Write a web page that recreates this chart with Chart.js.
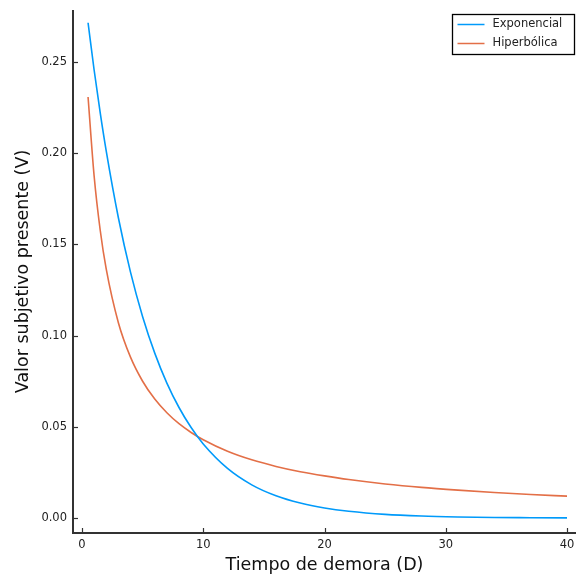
<!DOCTYPE html>
<html><head><meta charset="utf-8">
<script src="https://cdn.jsdelivr.net/npm/chart.js@4/dist/chart.umd.min.js"></script>
<style>html,body{margin:0;padding:0;background:#fff;}#wrap{width:576px;height:577px;position:relative;}</style>
</head><body><div id="wrap"><canvas id="c" width="576" height="577"></canvas></div>
<script>
const delays = [0.5,1,1.5,2,3,4,5,6,7,8,9,10,12,14,16,18,20,22,25,28,31,34,37,40];
const exponencial = [0.2715,0.2456,0.2222,0.2011,0.1646,0.1348,0.1104,0.0904,0.0740,0.0606,0.0496,0.0406,0.0272,0.0182,0.0122,0.0082,0.0055,0.0037,0.0020,0.0011,0.0006,0.0003,0.0002,0.0001];
const hiperbolica = [0.2308,0.1875,0.1579,0.1364,0.1071,0.0882,0.0750,0.0652,0.0577,0.0517,0.0469,0.0429,0.0366,0.0319,0.0283,0.0254,0.0231,0.0211,0.0187,0.0168,0.0153,0.0140,0.0129,0.0120];
const seriesNames = ["Exponencial","Hiperbólica"];
const xTicks = [0,10,20,30,40];
const yTicks = [0,0.05,0.10,0.15,0.20,0.25];
const FONT = "'DejaVu Sans', sans-serif";

const pts = v => delays.map((d,i)=>({x:d,y:v[i]}));

const axisPlugin = {
  id:'axes',
  afterDraw(chart){
    const ctx=chart.ctx, a=chart.chartArea, xs=chart.scales.x, ys=chart.scales.y;
    ctx.save();
    ctx.strokeStyle='#333'; ctx.lineWidth=1.2;
    xTicks.forEach(t=>{const px=Math.round(xs.getPixelForValue(t))+0.5;ctx.beginPath();ctx.moveTo(px,a.bottom);ctx.lineTo(px,a.bottom-5);ctx.stroke();});
    yTicks.forEach(t=>{const py=Math.round(ys.getPixelForValue(t))+0.5;ctx.beginPath();ctx.moveTo(a.left,py);ctx.lineTo(a.left+5,py);ctx.stroke();});
    ctx.lineWidth=2;
    ctx.beginPath();ctx.moveTo(a.left,a.top);ctx.lineTo(a.left,a.bottom);ctx.lineTo(a.right,a.bottom);ctx.stroke();
    // legend
    const bx=452.5, by=14.5, bw=122, bh=40;
    ctx.fillStyle='#fff'; ctx.fillRect(bx,by,bw,bh);
    ctx.strokeStyle='#000'; ctx.lineWidth=1.3; ctx.strokeRect(bx,by,bw,bh);
    ctx.font="11.5px "+FONT; ctx.textBaseline='middle'; ctx.textAlign='left';
    chart.data.datasets.forEach((ds,i)=>{
      const yy=by+10+i*19;
      ctx.strokeStyle=ds.borderColor; ctx.lineWidth=1.5;
      ctx.beginPath();ctx.moveTo(bx+5,yy);ctx.lineTo(bx+32,yy);ctx.stroke();
      ctx.fillStyle='#222'; ctx.fillText(ds.label,bx+40,yy);
    });
    ctx.restore();
  }
};

new Chart(document.getElementById('c'),{
  type:'scatter',
  data:{datasets:[
    {label:seriesNames[0],data:pts(exponencial),showLine:true,borderColor:'#009AFA',borderWidth:1.6,pointRadius:0,cubicInterpolationMode:'monotone'},
    {label:seriesNames[1],data:pts(hiperbolica),showLine:true,borderColor:'#E36F47',borderWidth:1.6,pointRadius:0,cubicInterpolationMode:'monotone'}
  ]},
  options:{
    responsive:false,animation:false,
    layout:{padding:{top:10,right:0,left:0,bottom:0}},
    plugins:{legend:{display:false},tooltip:{enabled:false}},
    scales:{
      x:{type:'linear',min:-0.742,max:40.74,
        afterBuildTicks(s){s.ticks=xTicks.map(v=>({value:v}));},
        afterFit(s){s.height=44;s.paddingLeft=0;s.paddingRight=0;},
        grid:{display:false,drawTicks:false},border:{display:false},
        ticks:{font:{family:FONT,size:11.5},color:'#222',padding:5,maxRotation:0,callback:v=>String(v)},
        title:{display:true,text:'Tiempo de demora (D)',font:{family:FONT,size:17.5},color:'#111',padding:{top:0,bottom:1}}},
      y:{type:'linear',min:-0.0082,max:0.2785,
        afterBuildTicks(s){s.ticks=yTicks.map(v=>({value:v}));},
        afterFit(s){s.width=73;s.paddingTop=0;s.paddingBottom=0;},
        grid:{display:false,drawTicks:false},border:{display:false},
        ticks:{font:{family:FONT,size:11.5},color:'#222',padding:6,callback:v=>v.toFixed(2)},
        title:{display:true,text:'Valor subjetivo presente (V)',font:{family:FONT,size:17.5},color:'#111',padding:{top:13,bottom:0}}}
    }
  },
  plugins:[axisPlugin]
});
</script></body></html>
